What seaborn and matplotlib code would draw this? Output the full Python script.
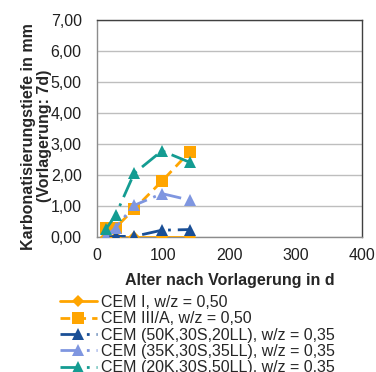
import matplotlib
matplotlib.use("Agg")
import matplotlib.pyplot as plt
import matplotlib.ticker as mticker
import seaborn as sns
import pandas as pd

# Carbonation depth after 7 d pre-storage
days = [14, 28, 56, 98, 140]
cem_i = [0.0, 0.0, 0.0, 0.0, 0.0]
cem_iii_a = [0.30, 0.30, 0.90, 1.80, 2.75]
cem_50k = [0.0, 0.02, 0.02, 0.22, 0.24]
cem_35k = [0.02, 0.30, 1.02, 1.40, 1.19]
cem_20k = [0.27, 0.70, 2.05, 2.78, 2.41]

labels = [
    "CEM I, w/z = 0,50",
    "CEM III/A, w/z = 0,50",
    "CEM (50K,30S,20LL), w/z = 0,35",
    "CEM (35K,30S,35LL), w/z = 0,35",
    "CEM (20K,30S,50LL), w/z = 0,35",
]
series = [cem_i, cem_iii_a, cem_50k, cem_35k, cem_20k]
colors = ["#FFA500", "#FFA500", "#1A4F96", "#7F96E0", "#149C92"]
markers = ["D", "s", "^", "^", "^"]
msizes = [6, 8, 8, 8, 8]
dashes = [None, (3.5, 2.2), (7, 2.5, 1, 2.5), (7, 2.5, 1, 2.5), (7, 2.5, 1, 2.5)]

df = pd.DataFrame(
    [(lab, d, v) for lab, vals in zip(labels, series) for d, v in zip(days, vals)],
    columns=["Serie", "Alter", "Tiefe"],
)

sns.set_style("white")
plt.rcParams["font.family"] = ["Liberation Sans", "DejaVu Sans"]
FS = 11.5

fig = plt.figure(figsize=(3.76, 3.72), dpi=100)
ax = fig.add_axes([97 / 376, 1 - 237 / 372, 265 / 376, 217 / 372])

for lab, col, mk, ms, ds in zip(labels, colors, markers, msizes, dashes):
    sub = df[df["Serie"] == lab]
    sns.lineplot(data=sub, x="Alter", y="Tiefe", ax=ax, color=col, marker=mk,
                 markersize=ms, markeredgewidth=0, linewidth=2.0, label=lab,
                 legend=False, zorder=3)
    line = ax.get_lines()[-1]
    if ds is not None:
        line.set_dashes(ds)

ax.set_xlim(0, 400)
ax.set_ylim(0, 7)
ax.xaxis.set_major_locator(mticker.MultipleLocator(100))
ax.yaxis.set_major_locator(mticker.MultipleLocator(1))
ax.yaxis.set_major_formatter(mticker.FuncFormatter(lambda v, p: f"{v:.2f}".replace(".", ",")))
ax.grid(axis="y", color="#BEBEBE", linewidth=1.0)
ax.set_axisbelow(True)
for side in ["left", "bottom"]:
    ax.spines[side].set_color("#8C8C8C")
for side in ["top", "right"]:
    ax.spines[side].set_color("#404040")
for sp in ax.spines.values():
    sp.set_linewidth(1.0)
ax.tick_params(axis="both", direction="out", length=4, width=1, color="#8C8C8C",
               labelsize=FS, labelcolor="#202020")
ax.tick_params(axis="x", pad=4)
ax.tick_params(axis="y", pad=7)

ax.set_xlabel("Alter nach Vorlagerung in d", fontsize=FS, fontweight="bold")
ax.xaxis.set_label_coords(0.5, -0.165)
ax.set_ylabel("Karbonatisierungstiefe in mm\n(Vorlagerung: 7d)", fontsize=FS,
              fontweight="bold", linespacing=1.15)
ax.yaxis.set_label_coords(-0.168, 0.465)

handles = ax.get_lines()[:5]
leg = fig.legend(handles, labels, loc="upper left", bbox_to_anchor=(60 / 376, 1 - 295 / 372),
                 frameon=False, fontsize=FS, handlelength=2.3, handletextpad=0.25,
                 labelspacing=0.08, borderpad=0, borderaxespad=0)

fig.savefig("out.png", dpi=100)
